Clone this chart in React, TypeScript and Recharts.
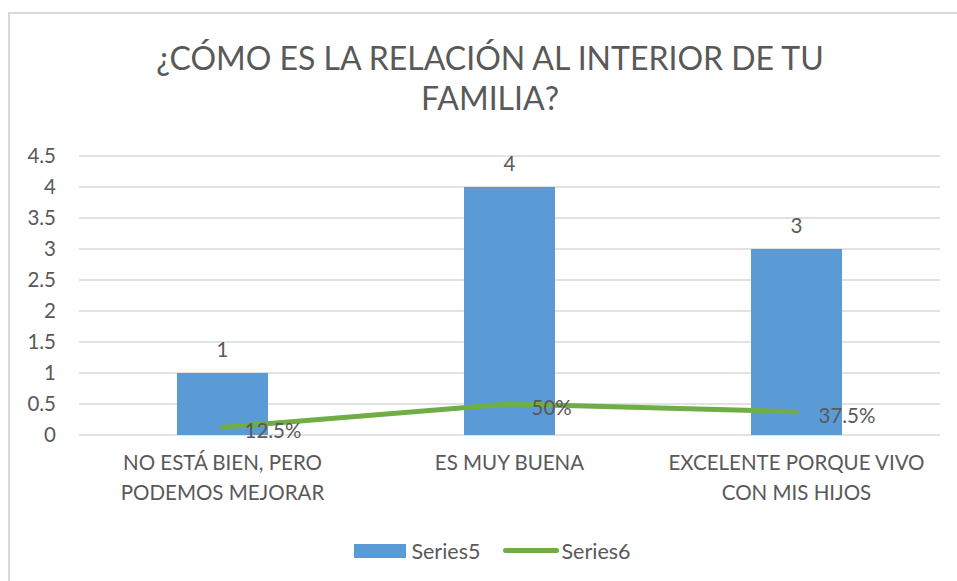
import React from "react";
import {
  ComposedChart,
  Bar,
  Line,
  XAxis,
  YAxis,
  CartesianGrid,
  Legend,
  LabelList,
} from "recharts";

const categories = [
  "NO ESTÁ BIEN, PERO\nPODEMOS MEJORAR",
  "ES MUY BUENA",
  "EXCELENTE PORQUE VIVO\nCON MIS HIJOS",
];
const series5 = [1, 4, 3];
const series6 = [0.125, 0.5, 0.375];
const series6Labels = ["12.5%", "50%", "37.5%"];
const yTicks = [0, 0.5, 1, 1.5, 2, 2.5, 3, 3.5, 4, 4.5];
const titleLines = ["¿CÓMO ES LA RELACIÓN AL INTERIOR DE TU", "FAMILIA?"];

const FONT = "Lato, 'Open Sans', sans-serif";
const TEXT = "#595959";
const BLUE = "#5B9BD5";
const GREEN = "#70AD47";
const FS = 20.5;

const data = categories.map((name, i) => ({
  name,
  Series5: series5[i],
  Series6: series6[i],
  pct: series6Labels[i],
}));

function CategoryTick(props: any) {
  const { x, y, payload } = props;
  const lines = String(payload.value).split("\n");
  return (
    <text x={x} y={y} textAnchor="middle" fill={TEXT} fontSize={FS} fontFamily={FONT}>
      {lines.map((l, i) => (
        <tspan key={i} x={x} dy={i === 0 ? 27 : 30}>
          {l}
        </tspan>
      ))}
    </text>
  );
}

function PctLabel(props: any) {
  const { x, y, value } = props;
  return (
    <text x={x + 22} y={y + 11} fill={TEXT} fontSize={FS} fontFamily={FONT}>
      {value}
    </text>
  );
}

function LegendBox() {
  return (
    <div
      style={{
        height: 56,
        display: "flex",
        justifyContent: "center",
        alignItems: "center",
        paddingBottom: 5,
        paddingLeft: 26,
        boxSizing: "border-box",
        fontFamily: FONT,
        fontSize: 21.5,
        color: TEXT,
      }}
    >
      <span style={{ width: 52, height: 14, background: BLUE, marginRight: 5 }} />
      <span style={{ marginRight: 22 }}>Series5</span>
      <span style={{ width: 56, height: 5, borderRadius: 3, background: GREEN, marginRight: 3 }} />
      <span>Series6</span>
    </div>
  );
}

export default function App() {
  return (
    <div style={{ position: "fixed", left: 0, top: 0, width: 957, height: 581, background: "#fff" }}>
      <div
        style={{
          position: "absolute",
          left: 8,
          top: 12,
          width: 960,
          height: 580,
          borderLeft: "2px solid #d9d9d9",
          borderTop: "2px solid #d9d9d9",
        }}
      />
      <div
        style={{
          position: "absolute",
          left: 0,
          top: 38,
          width: 980,
          textAlign: "center",
          fontFamily: FONT,
          fontSize: 32,
          lineHeight: "40px",
          color: TEXT,
        }}
      >
        {titleLines.map((t) => (
          <div key={t}>{t}</div>
        ))}
      </div>
      <div style={{ position: "absolute", left: 0, top: 0 }}>
        <ComposedChart
          width={957}
          height={581}
          data={data}
          margin={{ top: 156, right: 17, left: 19, bottom: 0 }}
          barCategoryGap={98}
        >
          <CartesianGrid vertical={false} stroke="#d9d9d9" strokeWidth={1.5} />
          <XAxis
            dataKey="name"
            axisLine={false}
            tickLine={false}
            height={90}
            interval={0}
            tick={<CategoryTick />}
          />
          <YAxis
            width={60}
            domain={[0, 4.5]}
            ticks={yTicks}
            axisLine={false}
            tickLine={false}
            tickSize={0}
            tickMargin={23}
            tick={{ fill: TEXT, fontSize: FS, fontFamily: FONT }}
          />
          <Legend verticalAlign="bottom" content={<LegendBox />} />
          <Bar dataKey="Series5" fill={BLUE} isAnimationActive={false}>
            <LabelList
              dataKey="Series5"
              position="top"
              offset={16}
              fill={TEXT}
              fontSize={FS}
              fontFamily={FONT}
            />
          </Bar>
          <Line
            dataKey="Series6"
            stroke={GREEN}
            strokeWidth={5}
            strokeLinecap="round"
            dot={false}
            activeDot={false}
            type="linear"
            isAnimationActive={false}
          >
            <LabelList dataKey="pct" content={<PctLabel />} />
          </Line>
        </ComposedChart>
      </div>
    </div>
  );
}
